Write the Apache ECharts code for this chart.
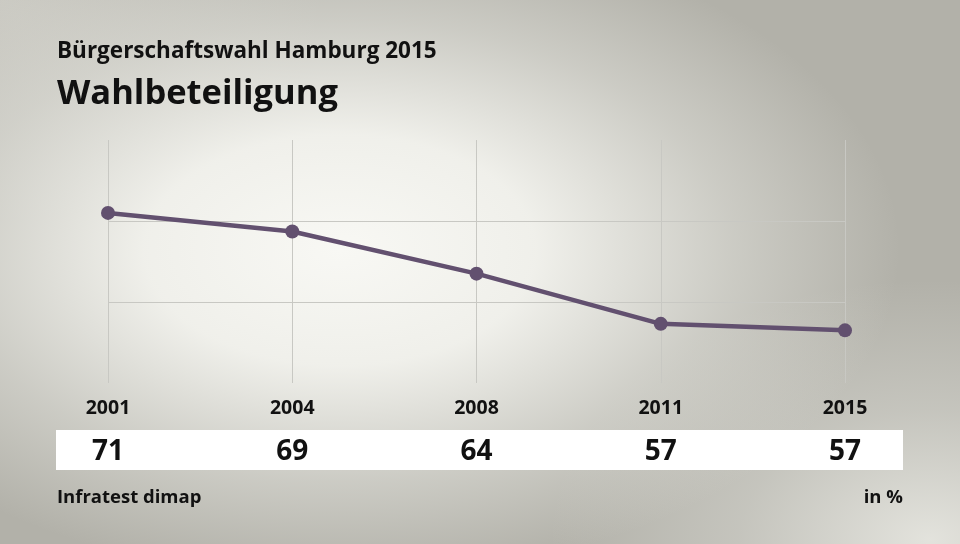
<!DOCTYPE html>
<html>
<head>
<meta charset="utf-8">
<script src="https://cdn.jsdelivr.net/npm/echarts@6/dist/echarts.min.js"></script>
<style>
html,body{margin:0;padding:0;}
#chart{width:960px;height:544px;
background:
 radial-gradient(ellipse 560px 330px at 340px 250px, rgba(248,248,244,1) 0%, rgba(243,243,238,0.95) 35%, rgba(225,225,219,0.55) 70%, rgba(200,199,192,0) 100%),
 radial-gradient(ellipse 380px 260px at 930px 540px, rgba(232,232,226,0.9) 0%, rgba(220,220,214,0.45) 50%, rgba(200,200,194,0) 100%),
 radial-gradient(ellipse 320px 220px at 0px 0px, rgba(208,207,200,0.8) 0%, rgba(200,199,192,0) 100%),
 #b2b1a9;
}
</style>
</head>
<body>
<div id="chart"></div>
<script>
const years = ['2001', '2004', '2008', '2011', '2015'];
const turnout = [71.0, 68.7, 63.5, 57.3, 56.5];
const shownValues = ['71', '69', '64', '57', '57'];
const yTicks = [50, 60, 70, 80];

const FONT = '"Open Sans", "Noto Sans", sans-serif';
const chart = echarts.init(document.getElementById('chart'), null, {renderer: 'canvas'});
chart.setOption({
  backgroundColor: 'transparent',
  animation: false,
  title: [
    {text: 'Bürgerschaftswahl Hamburg 2015', left: 52, top: 35,
     textStyle: {fontFamily: FONT, fontSize: 22.5, fontWeight: 'bold', color: '#111'}},
    {text: 'Wahlbeteiligung', left: 52, top: 72,
     textStyle: {fontFamily: FONT, fontSize: 34.5, fontWeight: 'bold', color: '#111'}}
  ],
  graphic: [
    {type: 'rect', z: -1, shape: {x: 56, y: 430, width: 847, height: 40}, style: {fill: '#ffffff'}},
    {type: 'text', left: 57, top: 488, style: {text: 'Infratest dimap', font: 'bold 18.5px ' + FONT, fill: '#111'}},
    {type: 'text', right: 57, top: 488, style: {text: 'in %', font: 'bold 18.5px ' + FONT, fill: '#111'}}
  ],
  grid: {left: 108, right: 115, top: 140, bottom: 161, containLabel: false},
  xAxis: [
    {type: 'category', data: years, boundaryGap: false, position: 'bottom',
     axisLine: {show: false}, axisTick: {show: false},
     axisLabel: {margin: 15, fontFamily: FONT, fontSize: 19.5, fontWeight: 'bold', color: '#111'},
     splitLine: {show: true, lineStyle: {color: '#c8c8c3', width: 1}}},
    {type: 'category', data: shownValues, boundaryGap: false, position: 'bottom', offset: 0,
     axisLine: {show: false}, axisTick: {show: false},
     axisLabel: {margin: 55, fontFamily: FONT, fontSize: 28, fontWeight: 'bold', color: '#111'},
     splitLine: {show: false}}
  ],
  yAxis: {
    type: 'value', min: yTicks[0], max: yTicks[yTicks.length - 1], interval: 10,
    axisLine: {show: false}, axisTick: {show: false}, axisLabel: {show: false},
    splitLine: {show: true, showMinLine: false, showMaxLine: false, lineStyle: {color: '#c8c8c3', width: 1}}
  },
  series: [{
    type: 'line', data: turnout, xAxisIndex: 0,
    symbol: 'circle', symbolSize: 14,
    lineStyle: {color: '#62506f', width: 4.5},
    itemStyle: {color: '#62506f'},
    label: {show: false}
  }]
});
</script>
</body>
</html>
